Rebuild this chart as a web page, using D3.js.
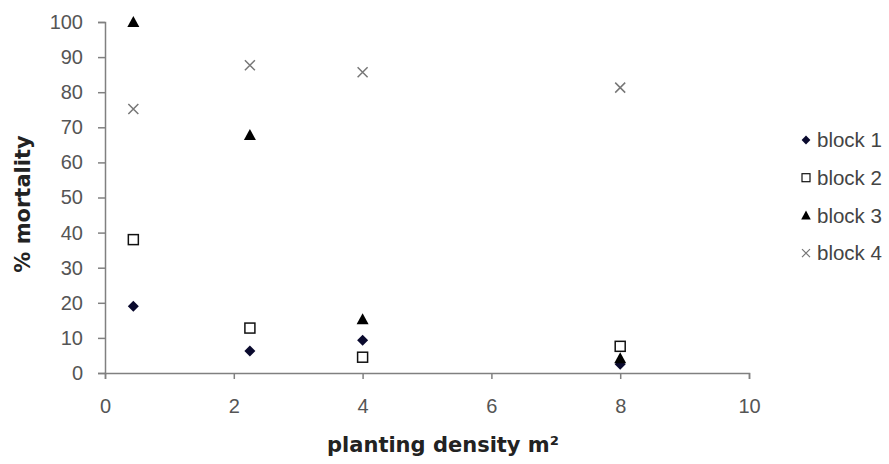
<!DOCTYPE html>
<html>
<head>
<meta charset="utf-8">
<script src="https://cdn.jsdelivr.net/npm/d3@7"></script>
<style>
  body { margin: 0; background: #fff; }
  svg { font-family: Arial, "Liberation Sans", sans-serif; }
  .axis path, .axis line { stroke: #808080; stroke-width: 1.5; }
  .axis text { fill: #555; font-size: 20px; }
  .title { font-family: "DejaVu Sans", sans-serif; font-weight: bold; font-size: 21px; fill: #222; }
</style>
</head>
<body>
<svg id="chart" width="889" height="464"></svg>
<script>
// data
var density = [0.44, 2.25, 4, 8]
var block1 = [19, 6.3, 9.3, 2.5]
var block2 = [38, 12.8, 4.5, 7.6]
var block3 = [100, 67.8, 15.3, 4.2]
var block4 = [75.2, 87.7, 85.7, 81.3]
var seriesNames = ['block 1', 'block 2', 'block 3', 'block 4']
var xTicks = [0, 2, 4, 6, 8, 10]
var yTicks = [0, 10, 20, 30, 40, 50, 60, 70, 80, 90, 100]

var series = [block1, block2, block3, block4]

var margin = {top: 22, left: 105}
  , width = 644
  , height = 351

var xScale = d3.scaleLinear().domain([0, 10]).range([0, width])
var yScale = d3.scaleLinear().domain([0, 100]).range([height, 0])

var svg = d3.select('#chart')
var g = svg.append('g')
    .attr('transform', 'translate(' + margin.left + ',' + margin.top + ')')

g.append('g')
    .attr('class', 'axis')
    .attr('transform', 'translate(0,' + height + ')')
    .call(d3.axisBottom(xScale).tickValues(xTicks).tickSize(6).tickSizeOuter(6).tickPadding(20))

g.append('g')
    .attr('class', 'axis')
    .call(d3.axisLeft(yScale).tickValues(yTicks).tickSize(7).tickSizeOuter(7).tickPadding(15))

// symbol drawing for each block
function drawMarker(sel, i) {
  if (i == 0) {
    sel.append('path').attr('d', 'M0,-5.5L5.5,0L0,5.5L-5.5,0Z').attr('fill', '#0a0a2e')
  } else if (i == 1) {
    sel.append('rect').attr('x', -5).attr('y', -5).attr('width', 10).attr('height', 10)
      .attr('fill', '#fff').attr('stroke', '#111').attr('stroke-width', 1.5)
  } else if (i == 2) {
    sel.append('path').attr('d', 'M0,-6L6,5L-6,5Z').attr('fill', '#000')
  } else {
    sel.append('path').attr('d', 'M-5,-5L5,5M5,-5L-5,5')
      .attr('stroke', '#777').attr('stroke-width', 1.5).attr('fill', 'none')
  }
}

series.forEach(function(values, i) {
  var pts = g.selectAll('.pt' + i)
    .data(values)
    .enter()
    .append('g')
      .attr('class', 'pt' + i)
      .attr('transform', function(d, j) { return 'translate(' + xScale(density[j]) + ',' + yScale(d) + ')' })
  pts.each(function() { drawMarker(d3.select(this), i) })
})

// legend
var legend = svg.append('g').attr('transform', 'translate(806,140)')
seriesNames.forEach(function(name, i) {
  var item = legend.append('g').attr('transform', 'translate(0,' + (i * 37.7) + ')')
  var m = item.append('g').attr('transform', 'scale(0.8)')
  drawMarker(m, i)
  item.append('text')
    .attr('x', 11)
    .attr('dy', '0.36em')
    .attr('font-size', 20.5)
    .attr('fill', '#444')
    .text(name)
})

// axis titles
svg.append('text')
    .attr('class', 'title')
    .attr('x', 443)
    .attr('y', 452)
    .attr('text-anchor', 'middle')
    .text('planting density m²')

svg.append('text')
    .attr('class', 'title')
    .attr('transform', 'translate(30,204) rotate(-90)')
    .attr('text-anchor', 'middle')
    .text('% mortality')
</script>
</body>
</html>
